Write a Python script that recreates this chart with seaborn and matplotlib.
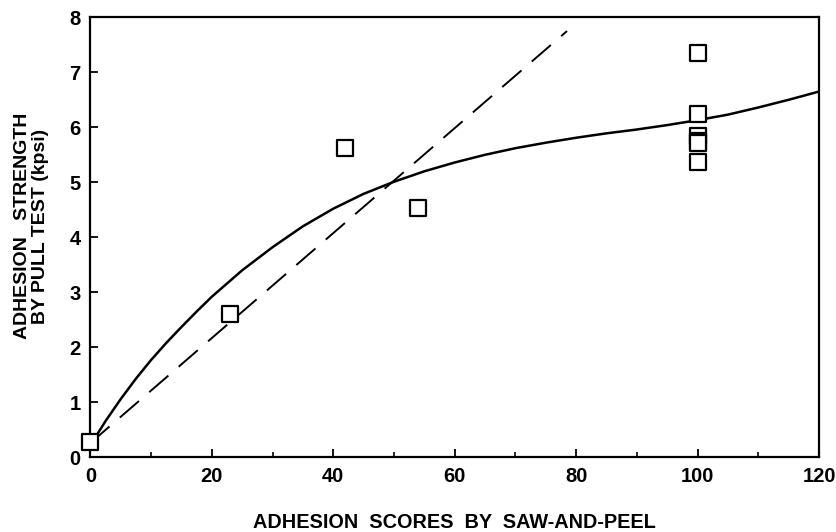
import matplotlib
matplotlib.use("Agg")
import matplotlib.pyplot as plt
from matplotlib.ticker import MultipleLocator
import seaborn as sns
import pandas as pd

# measured points (saw-and-peel score vs pull-test strength)
score = [0, 23, 42, 54, 100, 100, 100, 100, 100, 100]
strength = [0.27, 2.61, 5.62, 4.53, 7.35, 6.25, 5.85, 5.75, 5.71, 5.36]

# fitted curve
curve_x = [0, 2.5, 5, 7.5, 10, 12.5, 15, 17.5, 20, 25, 30, 35, 40, 45, 50, 55, 60,
           65, 70, 75, 80, 85, 90, 95, 100, 105, 110, 115, 120]
curve_y = [0.22, 0.66, 1.06, 1.43, 1.77, 2.08, 2.37, 2.65, 2.92, 3.40, 3.82, 4.20,
           4.52, 4.79, 5.01, 5.20, 5.36, 5.50, 5.62, 5.72, 5.81, 5.89, 5.96, 6.04,
           6.13, 6.23, 6.36, 6.50, 6.65]

# straight reference line
line_x = [0, 78.5]
line_y = [0.26, 7.75]

sns.set_style("ticks")
plt.rcParams["font.family"] = ["Liberation Sans", "DejaVu Sans"]
plt.rcParams["font.weight"] = "bold"
plt.rcParams["text.color"] = "black"
plt.rcParams["axes.labelcolor"] = "black"
plt.rcParams["xtick.color"] = "black"
plt.rcParams["ytick.color"] = "black"

fig = plt.figure(figsize=(8.37, 5.32), dpi=100)
ax = fig.add_axes([0.108, 0.1404, 0.8705, 0.8271])

pts = pd.DataFrame({"score": score, "strength": strength})
sns.lineplot(x=curve_x, y=curve_y, ax=ax, color="black", linewidth=1.8)
sns.lineplot(x=line_x, y=line_y, ax=ax, color="black", linewidth=1.4,
             linestyle=(0, (13, 7)))
sns.scatterplot(data=pts, x="score", y="strength", ax=ax, marker="s", s=135,
                facecolor="white", edgecolor="black", linewidth=1.6, zorder=3,
                clip_on=False)

ax.set_xlim(0, 120)
ax.set_ylim(0, 8)
ax.xaxis.set_major_locator(MultipleLocator(20))
ax.xaxis.set_minor_locator(MultipleLocator(10))
ax.yaxis.set_major_locator(MultipleLocator(1))
ax.tick_params(axis="both", which="major", direction="in", length=6, width=1.3,
               labelsize=14.5, pad=7, top=False, right=False, colors="black")
ax.tick_params(axis="x", which="minor", direction="in", length=3.5, width=1.2,
               top=False)
for s in ax.spines.values():
    s.set_visible(True)
    s.set_linewidth(1.6)
    s.set_color("black")

ax.set_xlabel("ADHESION  SCORES  BY  SAW-AND-PEEL", fontsize=14.3,
              fontweight="bold", va="top")
ax.xaxis.set_label_coords(0.5, -0.127)
ax.set_ylabel("ADHESION   STRENGTH\nBY PULL TEST (kpsi)", fontsize=14,
              fontweight="bold", linespacing=1.05)
ax.yaxis.set_label_coords(-0.057, 0.525)

fig.savefig("out.png", dpi=100)
